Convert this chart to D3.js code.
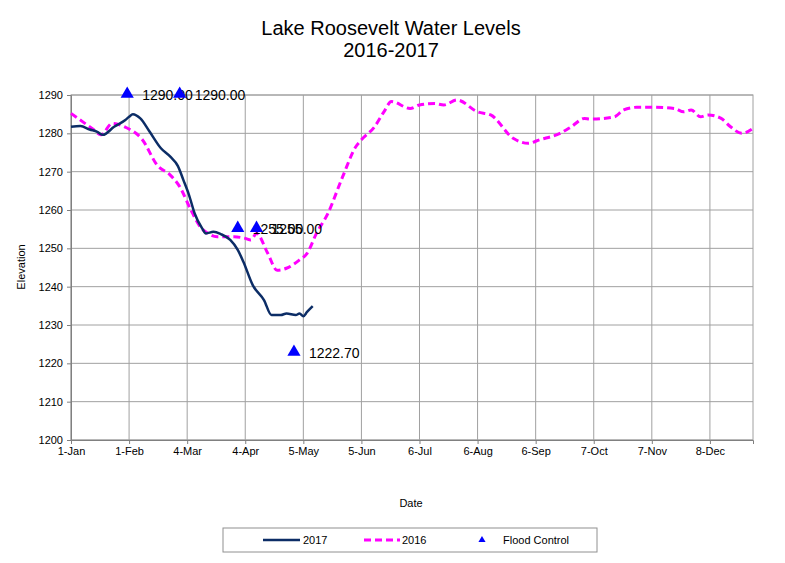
<!DOCTYPE html>
<html>
<head>
  <meta charset="utf-8">
  <script src="https://d3js.org/d3.v7.min.js"></script>
  <style>
    body { margin: 0; background: #fff; }
    text { font-family: "Liberation Sans", Arial, sans-serif; }
  </style>
</head>
<body>
<script>
  "use strict";

  // day of year (0 = 1-Jan) and elevation
  var days2017 = [0, 5, 10, 14, 17, 23, 29, 31, 33, 37, 42, 48, 53, 57, 60, 63, 66, 70, 72,
                  76, 80, 85, 89, 92, 97, 103, 107, 112, 115, 120, 122, 124, 126, 129];
  var elev2017 = [1281.7, 1281.9, 1281.0, 1280.4, 1279.6, 1281.7, 1283.5, 1284.3, 1285.0, 1283.9,
                  1280.4, 1276.1, 1273.9, 1271.5, 1267.8, 1263.9, 1259.1, 1255.2, 1253.9,
                  1254.3, 1253.7, 1252.2, 1249.6, 1246.5, 1240.4, 1236.5, 1232.6, 1232.6,
                  1233.0, 1232.6, 1233.0, 1232.3, 1233.4, 1234.9];

  var days2016 = [0, 12, 16, 22, 29, 38, 46, 53, 58, 64, 69, 73, 78, 87, 93, 96, 99, 105, 110,
                  115, 122, 126, 131, 137, 145, 152, 155, 162, 167, 171, 181, 186, 194, 199,
                  206, 217, 224, 236, 244, 250, 261, 267, 274, 277, 290, 295, 302, 311, 322,
                  327, 331, 336, 340, 347, 352, 358, 364];
  var elev2016 = [1285.2, 1281.0, 1279.6, 1282.6, 1281.6, 1278.4, 1271.7, 1269.1, 1266.1, 1260.0,
                  1255.6, 1253.9, 1253.0, 1253.0, 1252.6, 1252.2, 1253.9, 1248.7, 1244.3,
                  1244.8, 1247.0, 1248.7, 1253.9, 1259.0, 1268.7, 1276.5, 1278.3, 1281.7,
                  1285.6, 1288.3, 1286.5, 1287.4, 1287.8, 1287.4, 1288.7, 1285.6, 1284.8,
                  1278.7, 1277.4, 1278.3, 1280.0, 1281.7, 1283.9, 1283.7, 1284.3, 1286.1,
                  1286.8, 1286.8, 1286.5, 1285.6, 1286.1, 1284.3, 1284.8, 1283.9, 1281.7,
                  1280.0, 1281.3];

  var floodDays = [30, 58, 89, 99, 119];
  var floodElev = [1290.00, 1290.00, 1255.00, 1255.00, 1222.70];

  var xTickDays = [0, 31, 62, 93, 124, 155, 186, 217, 248, 279, 310, 341];
  var yTicks = [1200, 1210, 1220, 1230, 1240, 1250, 1260, 1270, 1280, 1290];

  var width = 785, height = 563;
  var plotLeft = 71, plotRight = 753, plotTop = 95, plotBottom = 440;

  var start = new Date(2017, 0, 1);
  function toDate(d) { return d3.timeDay.offset(start, d); }

  var svg = d3.select("body").append("svg")
      .attr("width", width)
      .attr("height", height);

  var x = d3.scaleTime()
      .domain([start, toDate(364)])
      .range([plotLeft, plotRight]);
  var y = d3.scaleLinear()
      .domain([1200, 1290])
      .range([plotBottom, plotTop]);

  // title
  svg.append("text")
      .attr("x", 391).attr("y", 35)
      .attr("text-anchor", "middle")
      .style("font-size", "20px")
      .text("Lake Roosevelt Water Levels");
  svg.append("text")
      .attr("x", 391).attr("y", 57)
      .attr("text-anchor", "middle")
      .style("font-size", "20px")
      .text("2016-2017");

  // gridlines
  svg.append("g")
    .selectAll("line")
    .data(yTicks)
    .enter().append("line")
      .attr("x1", plotLeft).attr("x2", plotRight)
      .attr("y1", function (d) { return y(d); })
      .attr("y2", function (d) { return y(d); })
      .style("stroke", "#a0a0a0")
      .style("stroke-width", 1);
  svg.append("g")
    .selectAll("line")
    .data(xTickDays)
    .enter().append("line")
      .attr("x1", function (d) { return x(toDate(d)); })
      .attr("x2", function (d) { return x(toDate(d)); })
      .attr("y1", plotTop).attr("y2", plotBottom)
      .style("stroke", "#a0a0a0")
      .style("stroke-width", 1);

  svg.append("rect")
      .attr("x", plotLeft).attr("y", plotTop)
      .attr("width", plotRight - plotLeft).attr("height", plotBottom - plotTop)
      .style("fill", "none")
      .style("stroke", "#a0a0a0");

  // axes
  var yAxis = svg.append("g")
      .attr("transform", "translate(" + plotLeft + ",0)")
      .call(d3.axisLeft(y).tickValues(yTicks).tickSize(4).tickPadding(4).tickFormat(d3.format("d")));
  var xAxis = svg.append("g")
      .attr("transform", "translate(0," + plotBottom + ")")
      .call(d3.axisBottom(x)
        .tickValues(xTickDays.map(toDate))
        .tickSize(4).tickPadding(3)
        .tickFormat(d3.timeFormat("%-d-%b")));
  [xAxis, yAxis].forEach(function (a) {
    a.select(".domain").style("stroke", "#808080");
    a.selectAll(".tick line").style("stroke", "#808080");
    a.selectAll("text")
      .style("font-family", "'Liberation Sans', Arial, sans-serif")
      .style("font-size", "11px")
      .style("fill", "#000");
  });

  // axis titles
  svg.append("text")
      .attr("transform", "translate(25,267) rotate(-90)")
      .attr("text-anchor", "middle")
      .style("font-size", "11px")
      .text("Elevation");
  svg.append("text")
      .attr("x", 411).attr("y", 507)
      .attr("text-anchor", "middle")
      .style("font-size", "11px")
      .text("Date");

  var line = d3.line()
      .x(function (d) { return x(toDate(d[0])); })
      .y(function (d) { return y(d[1]); })
      .curve(d3.curveMonotoneX);

  svg.append("path")
      .datum(d3.zip(days2016, elev2016))
      .attr("d", line)
      .style("fill", "none")
      .style("stroke", "#ff00ff")
      .style("stroke-width", 3)
      .style("stroke-dasharray", "7,4");

  svg.append("path")
      .datum(d3.zip(days2017, elev2017))
      .attr("d", line)
      .style("fill", "none")
      .style("stroke", "#0c2d66")
      .style("stroke-width", 2.5);

  // flood control markers
  var tri = d3.symbol().type(d3.symbolTriangle).size(75);
  var flood = svg.append("g")
    .selectAll("g")
    .data(d3.zip(floodDays, floodElev))
    .enter().append("g")
      .attr("transform", function (d) {
        return "translate(" + x(toDate(d[0])) + "," + y(d[1]) + ")";
      });
  flood.append("path")
      .attr("d", tri)
      .attr("transform", "translate(0,-1)")
      .style("fill", "#0000ff");
  flood.append("text")
      .attr("x", 15).attr("y", 5)
      .style("font-size", "14px")
      .text(function (d) { return d3.format(".2f")(d[1]); });

  // legend
  var lg = svg.append("g");
  lg.append("rect")
      .attr("x", 223).attr("y", 528)
      .attr("width", 374).attr("height", 24)
      .style("fill", "#fff")
      .style("stroke", "#909090");
  lg.append("line")
      .attr("x1", 263).attr("x2", 300).attr("y1", 540).attr("y2", 540)
      .style("stroke", "#0c2d66").style("stroke-width", 2.5);
  lg.append("text").attr("x", 303).attr("y", 544)
      .style("font-size", "11px").text("2017");
  lg.append("line")
      .attr("x1", 364).attr("x2", 400).attr("y1", 540).attr("y2", 540)
      .style("stroke", "#ff00ff").style("stroke-width", 3)
      .style("stroke-dasharray", "7,4");
  lg.append("text").attr("x", 402).attr("y", 544)
      .style("font-size", "11px").text("2016");
  lg.append("path")
      .attr("d", d3.symbol().type(d3.symbolTriangle).size(22))
      .attr("transform", "translate(482,540)")
      .style("fill", "#0000ff");
  lg.append("text").attr("x", 503).attr("y", 544)
      .style("font-size", "11px").text("Flood Control");
</script>
</body>
</html>
